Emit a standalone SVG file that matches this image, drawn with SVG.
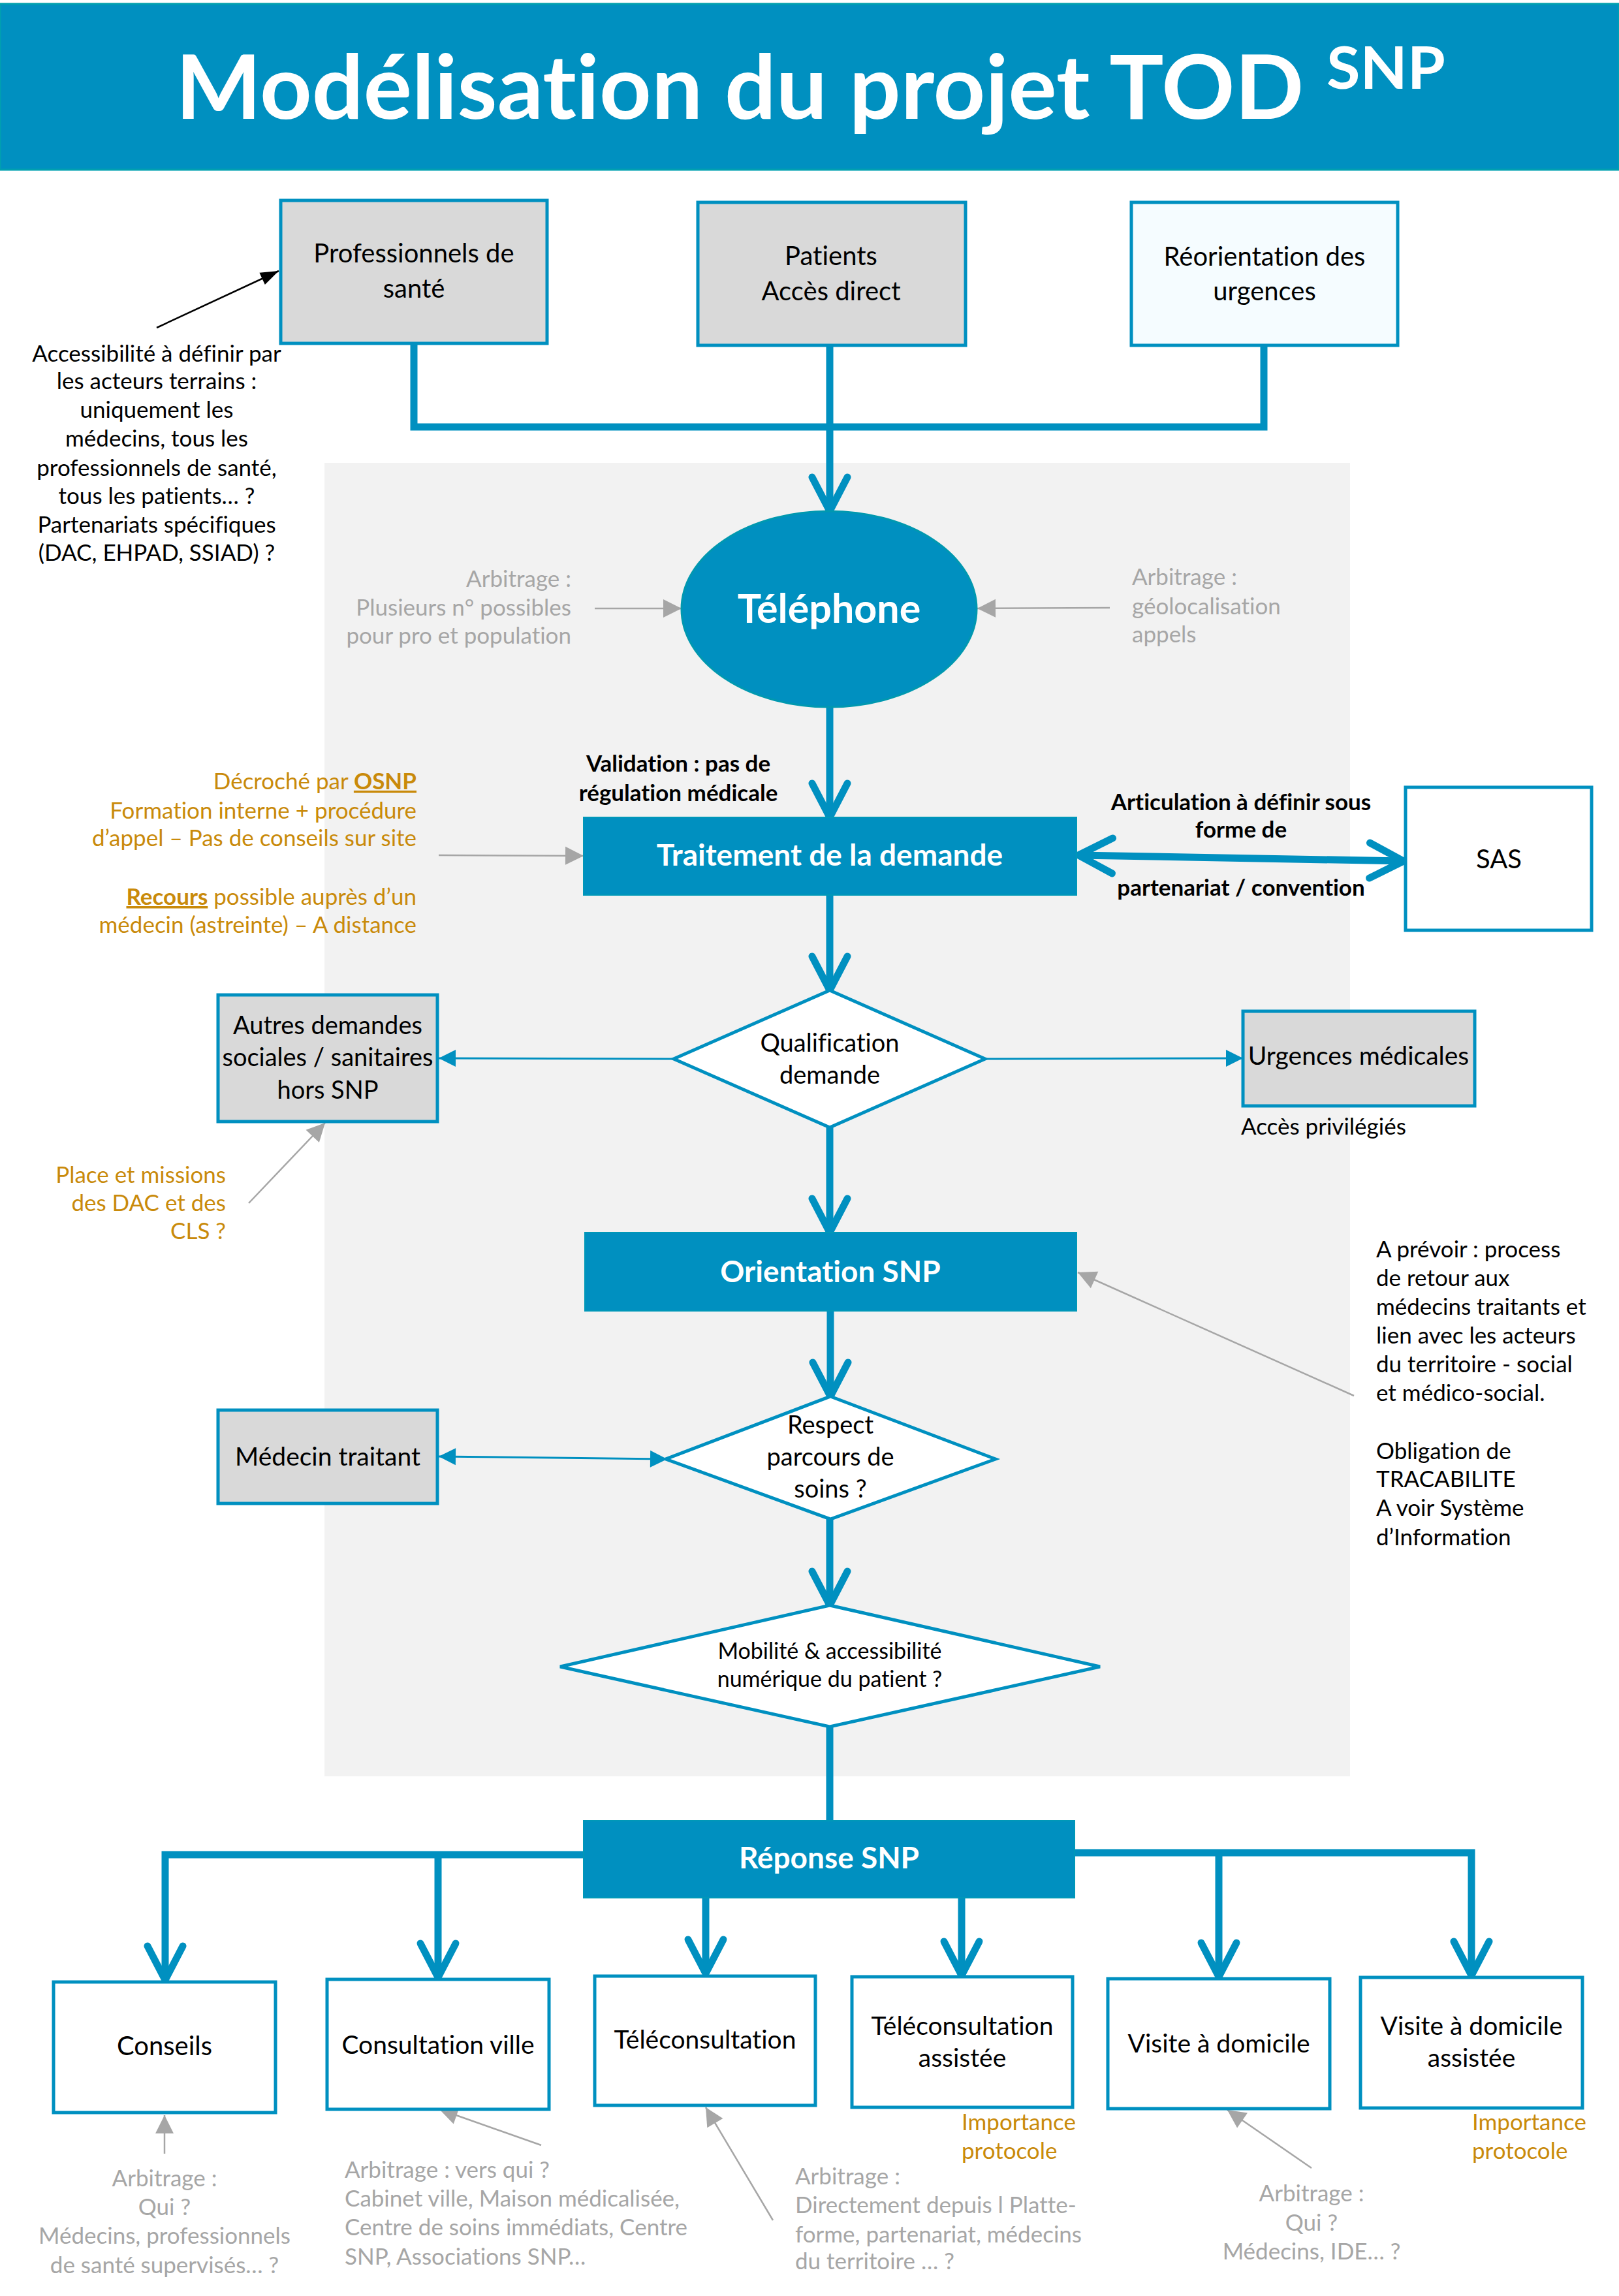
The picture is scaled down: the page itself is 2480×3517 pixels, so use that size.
<svg xmlns="http://www.w3.org/2000/svg" width="2480" height="3517" viewBox="0 0 2480 3517">
<style>
text{font-family:Lato,"Open Sans","Liberation Sans",sans-serif;font-variant-ligatures:none;}
.lbl{font-size:40px;fill:#000;text-anchor:middle;}
.s39{font-size:39px;}
.s37{font-size:38px;}
.s30{font-size:34px;}
.wlbl{font-size:46px;fill:#fff;font-weight:bold;text-anchor:middle;}
.note{font-size:35px;fill:#000;}
.gray{font-size:35px;fill:#A6A6A6;}
.orange{font-size:35px;fill:#C98A0A;}
.bold{font-weight:bold;}
.mid{text-anchor:middle;}
.end{text-anchor:end;}
.box{fill:#D9D9D9;stroke:#0090C0;stroke-width:5;}
.wbox{fill:#fff;stroke:#0090C0;stroke-width:5;}
.fbox{fill:#0090C0;stroke:#0098B8;stroke-width:2;}
.thick{fill:none;stroke:#0090C0;stroke-width:11;}
.thin{fill:none;stroke:#0090C0;stroke-width:3;}
.garr{fill:none;stroke:#A6A6A6;stroke-width:2.5;}
</style>
<defs>
<marker id="chev" markerUnits="userSpaceOnUse" viewBox="-60 -35 70 70" markerWidth="70" markerHeight="70" refX="0" refY="0" orient="auto-start-reverse" overflow="visible">
<path d="M-52,-27 L0,0 L-52,27" fill="none" stroke="#0090C0" stroke-width="11" stroke-linecap="round" stroke-linejoin="round"/>
</marker>
<marker id="btri" markerUnits="userSpaceOnUse" viewBox="-30 -15 32 30" markerWidth="32" markerHeight="30" refX="0" refY="0" orient="auto-start-reverse" overflow="visible">
<path d="M0,0 L-26,-13 L-26,13 Z" fill="#0090C0"/>
</marker>
<marker id="gtri" markerUnits="userSpaceOnUse" viewBox="-30 -15 32 30" markerWidth="32" markerHeight="30" refX="0" refY="0" orient="auto" overflow="visible">
<path d="M0,0 L-28,-14 L-28,14 Z" fill="#A6A6A6"/>
</marker>
<marker id="ktri" markerUnits="userSpaceOnUse" viewBox="-30 -15 32 30" markerWidth="32" markerHeight="30" refX="0" refY="0" orient="auto" overflow="visible">
<path d="M0,0 L-28,-10 L-28,10 Z" fill="#000"/>
</marker>
</defs>
<rect x="0" y="0" width="2480" height="3517" fill="#fff"/>
<g id="banner">
<rect x="0" y="6" width="2480" height="254" fill="#0090C0" stroke="#00A0B0" stroke-width="3"/>
<text x="269" y="182" font-size="136" font-weight="bold" fill="#fff" textLength="1728" lengthAdjust="spacingAndGlyphs">Modélisation du projet TOD</text>
<text x="2032" y="136" font-size="90" font-weight="bold" fill="#fff" textLength="182" lengthAdjust="spacingAndGlyphs">SNP</text>
</g>
<rect id="zone" x="497" y="709" width="1571" height="2012" fill="#F2F2F2"/>
<g id="connectors">
<path class="thick" d="M634,526 V654 H1936 V529"/>
<path class="thick" d="M1271,529 V783" marker-end="url(#chev)"/>
<path class="thick" d="M1271,1083 V1252" marker-end="url(#chev)"/>
<path class="thick" d="M1271,1371 V1517" marker-end="url(#chev)"/>
<path class="thick" d="M1271,1727 V1888" marker-end="url(#chev)"/>
<path class="thick" d="M1272,2008 V2139" marker-end="url(#chev)"/>
<path class="thick" d="M1271,2327 V2459" marker-end="url(#chev)"/>
<path class="thick" d="M1271,2645 V2789"/>
<path class="thick" d="M1652,1310 L2150,1319" marker-start="url(#chev)" marker-end="url(#chev)"/>
<path class="thick" d="M894,2841 H253 V3033" marker-end="url(#chev)"/>
<path class="thick" d="M671,2841 V3029" marker-end="url(#chev)"/>
<path class="thick" d="M1081,2907 V3023" marker-end="url(#chev)"/>
<path class="thick" d="M1473,2907 V3026" marker-end="url(#chev)"/>
<path class="thick" d="M1646,2838 H2254 V3026" marker-end="url(#chev)"/>
<path class="thick" d="M1867,2838 V3028" marker-end="url(#chev)"/>
<path class="thin" d="M1032,1622 L672,1621" marker-end="url(#btri)"/>
<path class="thin" d="M1509,1622 L1904,1621" marker-end="url(#btri)"/>
<path class="thin" d="M672,2231 L1022,2235" marker-start="url(#btri)" marker-end="url(#btri)"/>
<path class="garr" d="M911,932 L1044,932" marker-end="url(#gtri)"/>
<path class="garr" d="M1700,931 L1497,932" marker-end="url(#gtri)"/>
<path class="garr" d="M672,1310 L894,1311" marker-end="url(#gtri)"/>
<path class="garr" d="M381,1843 L498,1720" marker-end="url(#gtri)"/>
<path class="garr" d="M2074,2138 L1651,1949" marker-end="url(#gtri)"/>
<path class="garr" d="M252,3299 L252,3240" marker-end="url(#gtri)"/>
<path class="garr" d="M829,3286 L673,3231" marker-end="url(#gtri)"/>
<path class="garr" d="M1184,3401 L1081,3228" marker-end="url(#gtri)"/>
<path class="garr" d="M2009,3321 L1880,3232" marker-end="url(#gtri)"/>
<path d="M240,502 L427,415" fill="none" stroke="#000" stroke-width="2.5" marker-end="url(#ktri)"/>
</g>
<g id="pro">
<rect class="box" x="430" y="307" width="408" height="219"/>
<text class="lbl" x="634" y="402">Professionnels de</text>
<text class="lbl" x="634" y="456">santé</text>
</g>
<g id="patients">
<rect class="box" x="1069" y="310" width="410" height="219"/>
<text class="lbl" x="1273" y="406">Patients</text>
<text class="lbl" x="1273" y="460">Accès direct</text>
</g>
<g id="reorientation">
<rect x="1733" y="310" width="408" height="219" fill="#F5FCFF" stroke="#0090C0" stroke-width="5"/>
<text class="lbl" x="1937" y="407">Réorientation des</text>
<text class="lbl" x="1937" y="460">urgences</text>
</g>
<g id="telephone">
<ellipse cx="1270" cy="933" rx="226" ry="150" fill="#0090C0" stroke="#0098B0" stroke-width="3"/>
<text x="1270" y="954" font-size="61" font-weight="bold" fill="#fff" text-anchor="middle">Téléphone</text>
</g>
<g id="traitement">
<rect class="fbox" x="894" y="1252" width="755" height="119"/>
<text class="wlbl" x="1271" y="1326">Traitement de la demande</text>
</g>
<g id="sas">
<rect class="wbox" x="2153" y="1206" width="285" height="219"/>
<text class="lbl" x="2296" y="1330">SAS</text>
</g>
<g id="qualification">
<polygon points="1271,1517 1509,1622 1271,1727 1032,1622" fill="#fff" stroke="#0090C0" stroke-width="5"/>
<text class="lbl s37" x="1271" y="1611">Qualification</text>
<text class="lbl s37" x="1271" y="1660">demande</text>
</g>
<g id="autres">
<rect class="box" x="334" y="1524" width="336" height="194"/>
<text class="lbl s37" x="502" y="1584">Autres demandes</text>
<text class="lbl s37" x="502" y="1633">sociales / sanitaires</text>
<text class="lbl s37" x="502" y="1683">hors SNP</text>
</g>
<g id="urgences">
<rect class="box" x="1904" y="1549" width="355" height="145"/>
<text class="lbl s39" x="2081" y="1631">Urgences médicales</text>
</g>
<g id="orientation">
<rect class="fbox" x="896" y="1888" width="753" height="120"/>
<text class="wlbl" x="1272" y="1964">Orientation SNP</text>
</g>
<g id="respect">
<polygon points="1272,2139 1525,2235 1272,2327 1020,2235" fill="#fff" stroke="#0090C0" stroke-width="5"/>
<text class="lbl s37" x="1272" y="2196">Respect</text>
<text class="lbl s37" x="1272" y="2245">parcours de</text>
<text class="lbl s37" x="1272" y="2294">soins ?</text>
</g>
<g id="medecin">
<rect class="box" x="334" y="2160" width="336" height="143"/>
<text class="lbl s39" x="502" y="2245">Médecin traitant</text>
</g>
<g id="mobilite">
<polygon points="1271,2459 1685,2553 1271,2645 858,2553" fill="#fff" stroke="#0090C0" stroke-width="5"/>
<text class="lbl s30" x="1271" y="2541">Mobilité &amp; accessibilité</text>
<text class="lbl s30" x="1271" y="2584">numérique du patient ?</text>
</g>
<g id="reponse">
<rect class="fbox" x="894" y="2789" width="752" height="118"/>
<text class="wlbl" x="1270" y="2862">Réponse SNP</text>
</g>
<g id="conseils">
<rect class="wbox" x="82" y="3036" width="340" height="200"/>
<text class="lbl" x="252" y="3148">Conseils</text>
</g>
<g id="consultation">
<rect class="wbox" x="501" y="3032" width="340" height="199"/>
<text class="lbl s39" x="671" y="3146">Consultation ville</text>
</g>
<g id="teleconsultation">
<rect class="wbox" x="911" y="3027" width="338" height="198"/>
<text class="lbl s39" x="1080" y="3138">Téléconsultation</text>
</g>
<g id="teleassistee">
<rect class="wbox" x="1305" y="3028" width="338" height="200"/>
<text class="lbl s39" x="1474" y="3117">Téléconsultation</text>
<text class="lbl s39" x="1474" y="3166">assistée</text>
</g>
<g id="visite">
<rect class="wbox" x="1697" y="3031" width="340" height="199"/>
<text class="lbl s39" x="1867" y="3144">Visite à domicile</text>
</g>
<g id="visiteassistee">
<rect class="wbox" x="2084" y="3029" width="340" height="200"/>
<text class="lbl s39" x="2254" y="3117">Visite à domicile</text>
<text class="lbl s39" x="2254" y="3166">assistée</text>
</g>
<g id="annotations">
<text class="note mid" x="240" y="554">Accessibilité à définir par</text>
<text class="note mid" x="240" y="596">les acteurs terrains :</text>
<text class="note mid" x="240" y="640">uniquement les</text>
<text class="note mid" x="240" y="684">médecins, tous les</text>
<text class="note mid" x="240" y="729">professionnels de santé,</text>
<text class="note mid" x="240" y="772">tous les patients… ?</text>
<text class="note mid" x="240" y="816">Partenariats spécifiques</text>
<text class="note mid" x="240" y="859">(DAC, EHPAD, SSIAD) ?</text>
<text class="gray end" x="875" y="899">Arbitrage :</text>
<text class="gray end" x="875" y="943">Plusieurs  n° possibles</text>
<text class="gray end" x="875" y="986">pour pro et population</text>
<text class="gray" x="1734" y="896">Arbitrage :</text>
<text class="gray" x="1734" y="941">géolocalisation</text>
<text class="gray" x="1734" y="984">appels</text>
<text class="note mid bold" x="1039" y="1182">Validation : pas de</text>
<text class="note mid bold" x="1039" y="1227">régulation médicale</text>
<text class="note mid bold" x="1901" y="1241">Articulation à définir sous</text>
<text class="note mid bold" x="1901" y="1283">forme de</text>
<text class="note mid bold" x="1901" y="1372">partenariat / convention</text>
<text class="orange end" x="638" y="1209">Décroché par <tspan font-weight="bold" text-decoration="underline">OSNP</tspan></text>
<text class="orange end" x="638" y="1254">Formation interne + procédure</text>
<text class="orange end" x="638" y="1296">d’appel – Pas de conseils sur site</text>
<text class="orange end" x="638" y="1386"><tspan font-weight="bold" text-decoration="underline">Recours</tspan> possible auprès d’un</text>
<text class="orange end" x="638" y="1429">médecin (astreinte) – A distance</text>
<text class="note" x="1901" y="1738">Accès privilégiés</text>
<text class="orange end" x="346" y="1812">Place et missions</text>
<text class="orange end" x="346" y="1855">des DAC et des</text>
<text class="orange end" x="346" y="1898">CLS ?</text>
<text class="note" x="2108" y="1926">A prévoir : process</text>
<text class="note" x="2108" y="1970">de retour aux</text>
<text class="note" x="2108" y="2014">médecins traitants et</text>
<text class="note" x="2108" y="2058">lien avec les acteurs</text>
<text class="note" x="2108" y="2102">du territoire - social</text>
<text class="note" x="2108" y="2146">et médico-social.</text>
<text class="note" x="2108" y="2235">Obligation de</text>
<text class="note" x="2108" y="2278">TRACABILITE</text>
<text class="note" x="2108" y="2322">A voir Système</text>
<text class="note" x="2108" y="2367">d’Information</text>
<text class="orange" x="1473" y="3263">Importance</text>
<text class="orange" x="1473" y="3307">protocole</text>
<text class="orange" x="2255" y="3263">Importance</text>
<text class="orange" x="2255" y="3307">protocole</text>
<text class="gray mid" x="252" y="3349">Arbitrage :</text>
<text class="gray mid" x="252" y="3393">Qui ?</text>
<text class="gray mid" x="252" y="3437">Médecins, professionnels</text>
<text class="gray mid" x="252" y="3482">de santé supervisés… ?</text>
<text class="gray" x="528" y="3336">Arbitrage : vers qui ?</text>
<text class="gray" x="528" y="3380">Cabinet ville, Maison médicalisée,</text>
<text class="gray" x="528" y="3424">Centre de soins immédiats, Centre</text>
<text class="gray" x="528" y="3469">SNP, Associations SNP…</text>
<text class="gray" x="1218" y="3346">Arbitrage :</text>
<text class="gray" x="1218" y="3390">Directement depuis l Platte-</text>
<text class="gray" x="1218" y="3435">forme, partenariat, médecins</text>
<text class="gray" x="1218" y="3476">du territoire … ?</text>
<text class="gray mid" x="2009" y="3372">Arbitrage :</text>
<text class="gray mid" x="2009" y="3417">Qui ?</text>
<text class="gray mid" x="2009" y="3461">Médecins, IDE… ?</text>
</g>
</svg>
